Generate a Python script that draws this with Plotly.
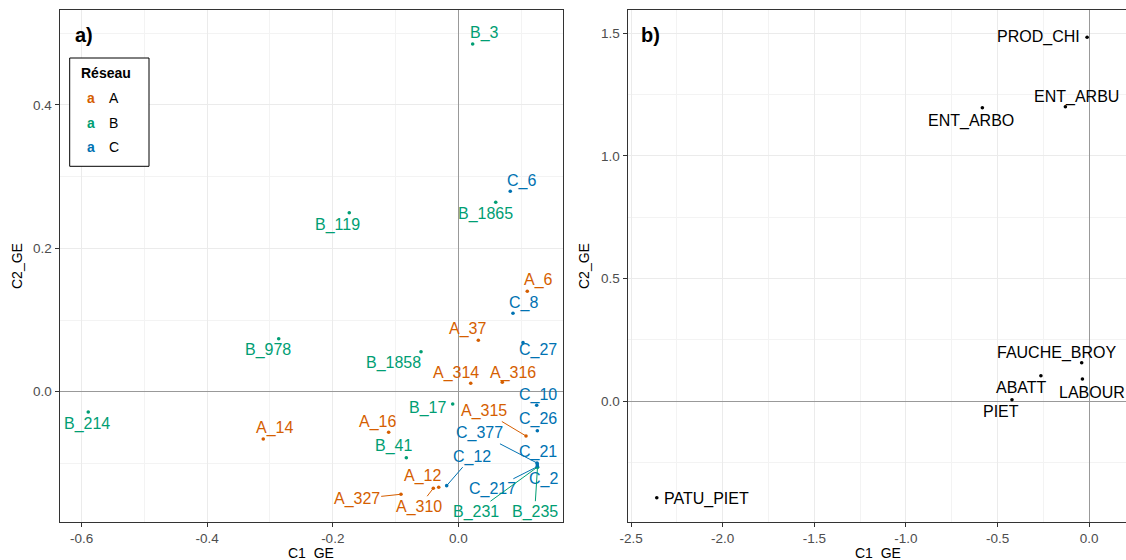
import plotly.graph_objects as go

# ---------------- data: panel a (individuals) ----------------
names_a = ["B_3", "C_6", "B_1865", "A_6", "C_8", "A_37", "C_27", "A_314", "A_316",
           "B_1858", "B_978", "B_119", "B_214", "A_14", "C_10", "B_17", "A_315",
           "C_26", "A_16", "B_41", "C_377", "C_21", "C_2", "C_217", "B_231",
           "B_235", "C_12", "A_12", "A_310", "A_327"]
reseau_a = ["B", "C", "B", "A", "C", "A", "C", "A", "A",
            "B", "B", "B", "B", "A", "C", "B", "A",
            "C", "A", "B", "C", "C", "C", "C", "B",
            "B", "C", "A", "A", "A"]
c1_a = [0.0229, 0.0828, 0.0596, 0.1099, 0.0871, 0.0319, 0.1031, 0.0198, 0.0701,
        -0.0594, -0.2861, -0.1737, -0.5895, -0.3107, 0.1249, -0.0089, 0.1079,
        0.1259, -0.1109, -0.0828, 0.1254, 0.1259, 0.1259, 0.1259, 0.1262,
        0.1262, -0.0185, -0.0312, -0.0398, -0.0913]
c2_a = [0.4851, 0.2796, 0.2642, 0.1401, 0.1094, 0.0717, 0.0684, 0.0117, 0.0131,
        0.0558, 0.0739, 0.2497, -0.0283, -0.0660, -0.0190, -0.0172, -0.0618,
        -0.0544, -0.0566, -0.0921, -0.0995, -0.1009, -0.1037, -0.1046, -0.1051,
        -0.1055, -0.1311, -0.1334, -0.1348, -0.1431]

# ---------------- data: panel b (variables) ----------------
names_b = ["PROD_CHI", "ENT_ARBU", "ENT_ARBO", "FAUCHE_BROY", "ABATT", "LABOUR",
           "PIET", "PATU_PIET"]
c1_b = [-0.0115, -0.130, -0.583, -0.041, -0.2636, -0.037, -0.4213, -2.3598]
c2_b = [1.4837, 1.2006, 1.1965, 0.1562, 0.1032, 0.0897, 0.0053, -0.3945]

# ---------------- ticks ----------------
xa_ticks = [-0.6, -0.4, -0.2, 0.0]
xa_ticktext = ["-0.6", "-0.4", "-0.2", "0.0"]
xa_minor = [-0.5, -0.3, -0.1, 0.1]
ya_ticks = [0.0, 0.2, 0.4]
ya_ticktext = ["0.0", "0.2", "0.4"]
ya_minor = [-0.1, 0.1, 0.3, 0.5]
xb_ticks = [-2.5, -2.0, -1.5, -1.0, -0.5, 0.0]
xb_ticktext = ["-2.5", "-2.0", "-1.5", "-1.0", "-0.5", "0.0"]
xb_minor = [-2.25, -1.75, -1.25, -0.75, -0.25]
yb_ticks = [0.0, 0.5, 1.0, 1.5]
yb_ticktext = ["0.0", "0.5", "1.0", "1.5"]
yb_minor = [-0.25, 0.25, 0.75, 1.25]

groups = ["A", "B", "C"]

# ---------------- styling / label placement (pixels) ----------------
W, H = 1126, 560
colors = {"A": "#D55E00", "B": "#009E73", "C": "#0072B2"}
FONT = "Liberation Sans, Arial, sans-serif"
LAB = 16

# (dx, dy, segment) label offsets in pixels, screen coordinates (dy down)
off_a = {
    "B_3": (11.8, -10.7, False), "C_6": (11.2, -10.3, False), "B_1865": (-10.7, 12, False),
    "A_6": (11.7, -11.3, False), "C_8": (10.7, -10.6, False), "A_37": (-10.6, -11, False),
    "C_27": (15.3, 7.3, False), "A_314": (-15.2, -10.6, False), "A_316": (10.4, -9.6, False),
    "B_1858": (-27.8, 11, False), "B_978": (-10.7, 11.3, False), "B_119": (-11.3, 12.3, False),
    "B_214": (-0.8, 12.3, False), "A_14": (10.9, -10.7, False), "C_10": (1.6, -10.3, False),
    "B_17": (-25.4, 4.3, False), "A_315": (-41.7, -25, True), "C_26": (1, -11.7, False),
    "A_16": (-11.2, -10, False), "B_41": (-12.6, -12, False), "C_377": (-57.3, -29.7, True),
    "C_21": (0.7, -12.3, False), "C_2": (5.7, 13.3, False), "C_217": (-44.8, 22.6, True),
    "B_231": (-61.5, 44.7, True), "B_235": (-2.8, 44.4, True), "C_12": (25.1, -29, True),
    "A_12": (-16.2, -11.3, False), "A_310": (-14.3, 18.4, True), "A_327": (-44.3, 4.7, True),
}
off_b = {
    "PROD_CHI": (-48.4, 0), "ENT_ARBU": (11.2, -10), "ENT_ARBO": (-11.7, 13.3),
    "FAUCHE_BROY": (-24.7, -10), "ABATT": (-19.3, 12), "LABOUR": (9.6, 13.3),
    "PIET": (-10.6, 12), "PATU_PIET": (49.5, 1.3),
}

def px(x):
    return x / W

def py(y):
    return 1 - y / H

top, bot = 10, 522
fig = go.Figure()

for g in groups:
    idx = [i for i, r in enumerate(reseau_a) if r == g]
    fig.add_trace(go.Scatter(
        x=[c1_a[i] for i in idx], y=[c2_a[i] for i in idx], mode="markers",
        marker=dict(color=colors[g], size=3.6, line=dict(width=0)),
        text=[names_a[i] for i in idx], hoverinfo="text",
        xaxis="x", yaxis="y", showlegend=False))

fig.add_trace(go.Scatter(
    x=c1_b, y=c2_b, mode="markers", marker=dict(color="black", size=3.6, line=dict(width=0)),
    text=names_b, hoverinfo="text", xaxis="x2", yaxis="y2", showlegend=False))

ann = []
for n, r, x, y in zip(names_a, reseau_a, c1_a, c2_a):
    dx, dy, seg = off_a[n]
    c = colors[r]
    if seg:
        ann.append(dict(x=x, y=y, xref="x", yref="y", text=n, showarrow=True,
                        ax=dx, ay=dy, axref="pixel", ayref="pixel", arrowhead=0,
                        arrowwidth=1, arrowcolor=c, standoff=0, startstandoff=0,
                        font=dict(family=FONT, size=LAB, color=c)))
    else:
        ann.append(dict(x=x, y=y, xref="x", yref="y", text=n, showarrow=False,
                        xshift=dx, yshift=-dy, font=dict(family=FONT, size=LAB, color=c)))

for n, x, y in zip(names_b, c1_b, c2_b):
    dx, dy = off_b[n]
    ann.append(dict(x=x, y=y, xref="x2", yref="y2", text=n, showarrow=False,
                    xshift=dx, yshift=-dy, font=dict(family=FONT, size=LAB, color="black")))

# panel tags
ann.append(dict(x=px(72.5), y=py(35), xref="paper", yref="paper", text="<b>a)</b>",
                showarrow=False, xanchor="left", yanchor="middle",
                font=dict(family=FONT, size=20, color="black")))
ann.append(dict(x=px(639), y=py(35), xref="paper", yref="paper", text="<b>b)</b>",
                showarrow=False, xanchor="left", yanchor="middle",
                font=dict(family=FONT, size=20, color="black")))

# axis titles
title_font = dict(family=FONT, size=14, color="black")
ann.append(dict(x=px(311), y=py(553), xref="paper", yref="paper", text="C1_GE",
                showarrow=False, xanchor="center", yanchor="middle", font=title_font))
ann.append(dict(x=px(878), y=py(553), xref="paper", yref="paper", text="C1_GE",
                showarrow=False, xanchor="center", yanchor="middle", font=title_font))
ann.append(dict(x=px(17), y=py(266), xref="paper", yref="paper", text="C2_GE",
                showarrow=False, xanchor="center", yanchor="middle", textangle=-90,
                font=title_font))
ann.append(dict(x=px(584), y=py(266), xref="paper", yref="paper", text="C2_GE",
                showarrow=False, xanchor="center", yanchor="middle", textangle=-90,
                font=title_font))

# manual legend
ann.append(dict(x=px(78.5), y=py(73), xref="paper", yref="paper", text="<b>Réseau</b>",
                showarrow=False, xanchor="left", yanchor="middle",
                font=dict(family=FONT, size=14, color="black")))
for k, g in enumerate(groups):
    yy = 98.3 + 24.2 * k
    ann.append(dict(x=px(90.7), y=py(yy), xref="paper", yref="paper", text="<b>a</b>",
                    showarrow=False, xanchor="center", yanchor="middle",
                    font=dict(family=FONT, size=14, color=colors[g])))
    ann.append(dict(x=px(106.5), y=py(yy), xref="paper", yref="paper", text=g,
                    showarrow=False, xanchor="left", yanchor="middle",
                    font=dict(family=FONT, size=14, color="black")))

shapes = [
    dict(type="rect", xref="paper", yref="paper", x0=px(69.7), x1=px(149),
         y0=py(166.3), y1=py(58), line=dict(color="black", width=1), fillcolor="white",
         layer="above"),
]

def axis(domain, rng, tv, tt, minor, anchor, mirror=True):
    d = dict(domain=domain, range=rng, tickmode="array", tickvals=tv, ticktext=tt,
             showgrid=True, gridcolor="#EBEBEB", gridwidth=1.1,
             minor=dict(tickmode="array", tickvals=minor, showgrid=True,
                        gridcolor="#F3F3F3", gridwidth=0.7, ticks=""),
             zeroline=True, zerolinecolor="#999999", zerolinewidth=1.3,
             showline=True, linecolor="#333333", linewidth=1, mirror=mirror,
             ticks="outside", ticklen=4, tickwidth=1, tickcolor="#333333",
             tickfont=dict(family=FONT, size=13.5, color="#4D4D4D"),
             automargin=False, anchor=anchor, fixedrange=True)
    return d

ydom = [py(bot), py(top)]
layout = dict(
    width=W, height=H, margin=dict(l=0, r=0, t=0, b=0, autoexpand=False),
    paper_bgcolor="white", plot_bgcolor="white",
    xaxis=axis([px(59.5), px(563)], [-0.6353, 0.1668], xa_ticks, xa_ticktext, xa_minor, "y"),
    yaxis=axis(ydom, [-0.1818, 0.5325], ya_ticks, ya_ticktext, ya_minor, "x"),
    xaxis2=axis([px(627.5), 1.0], [-2.5196, 0.2008], xb_ticks, xb_ticktext, xb_minor, "y2"),
    yaxis2=axis(ydom, [-0.4936, 1.5951], yb_ticks, yb_ticktext, yb_minor, "x2", mirror=False),
    annotations=ann, shapes=shapes, showlegend=False,
    font=dict(family=FONT),
)
fig.update_layout(**layout)
fig.write_html("out.html")
